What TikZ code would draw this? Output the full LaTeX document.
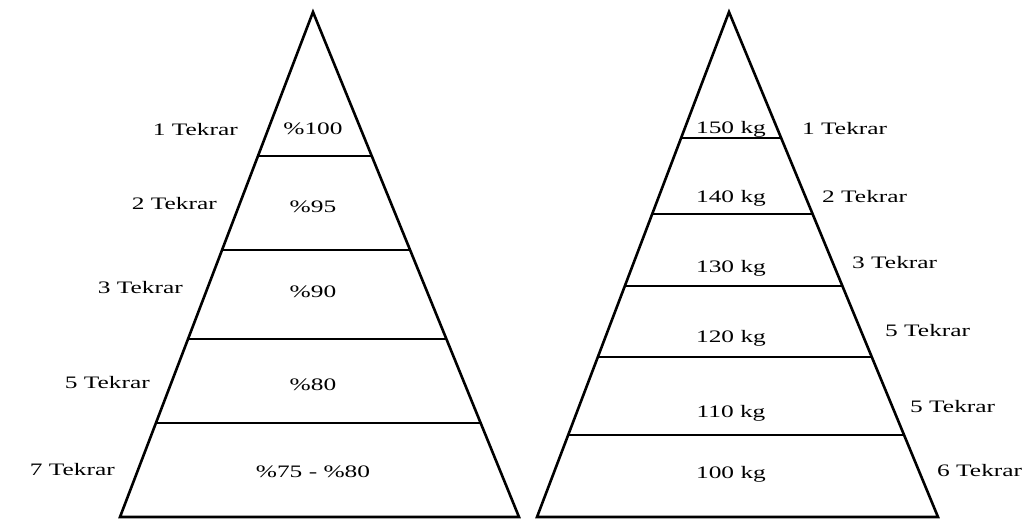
\documentclass[tikz,border=0pt]{standalone}
\usepackage{fontspec}
\setmainfont{Liberation Serif}[FakeStretch=1.45]
\usetikzlibrary{calc}

\begin{document}
\begin{tikzpicture}[x=1pt,y=-1pt,
    side/.style={line width=2.6pt, line join=miter},
    level/.style={line width=1.6pt},
    lbl/.style={font=\fontsize{17.5}{20}\selectfont, inner sep=0pt}]
    \clip (0,0) rectangle (1022,522);
    \fill[white] (0,0) rectangle (1022,522);

    % left pyramid
    \coordinate (lA) at (313,12);
    \coordinate (lB) at (120,517);
    \coordinate (lC) at (519,517);
    \draw[side] (lA) -- (lB) -- (lC) -- cycle;
    \foreach \y in {156,250,339,423}
        \draw[level] ($(lA)!{(\y-12)/505}!(lB)$) -- ($(lA)!{(\y-12)/505}!(lC)$);

    \foreach \x/\y/\n [count=\i] in {238/135/1, 217/209/2, 183/293/3, 150/388/5, 115/475/7}
        \node[lbl, anchor=base east] (lrep\i) at (\x,\y) {\n\ Tekrar};

    \node[lbl, anchor=base] (lpct1) at (313,134) {\%100};
    \node[lbl, anchor=base] (lpct2) at (313,212) {\%95};
    \node[lbl, anchor=base] (lpct3) at (313,297) {\%90};
    \node[lbl, anchor=base] (lpct4) at (313,390) {\%80};
    \node[lbl, anchor=base] (lpct5) at (313,477) {\%75 - \%80};

    % right pyramid
    \coordinate (rA) at (729,12);
    \coordinate (rB) at (537,517);
    \coordinate (rC) at (938,517);
    \draw[side] (rA) -- (rB) -- (rC) -- cycle;
    \foreach \y in {138,214,286,357,435}
        \draw[level] ($(rA)!{(\y-12)/505}!(rB)$) -- ($(rA)!{(\y-12)/505}!(rC)$);

    \foreach \y/\w [count=\i] in {133/150, 202/140, 272/130, 342/120, 417/110, 478/100}
        \node[lbl, anchor=base] (rkg\i) at (731,\y) {\w\ kg};

    \foreach \x/\y/\n [count=\i] in {802/134/1, 822/202/2, 852/268/3, 885/336/5, 910/412/5, 937/476/6}
        \node[lbl, anchor=base west] (rrep\i) at (\x,\y) {\n\ Tekrar};
\end{tikzpicture}
\end{document}
